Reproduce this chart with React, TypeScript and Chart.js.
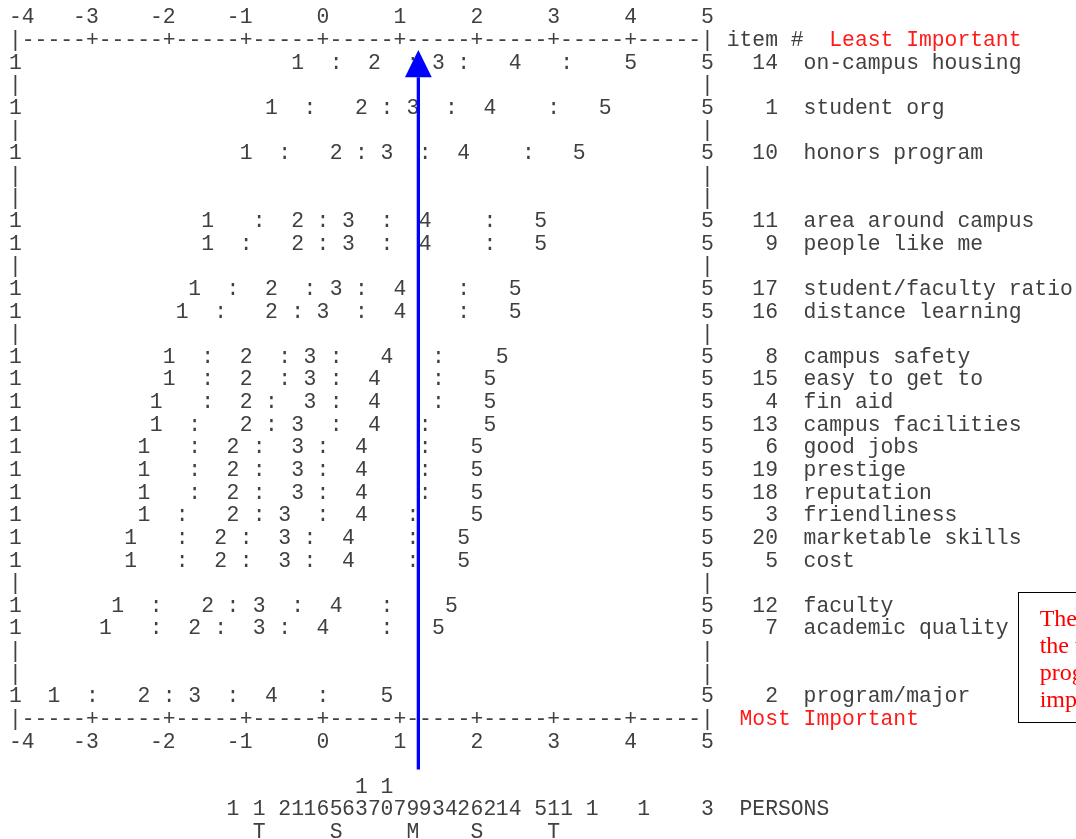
import React, { useEffect, useRef } from "react";
import { Chart, registerables } from "chart.js";

Chart.register(...registerables);

// ---------- data ----------
const xTicks = [-4, -3, -2, -1, 0, 1, 2, 3, 4, 5];

const itemNumbers = [14, 1, 10, 11, 9, 17, 16, 8, 15, 4, 13, 6, 19, 18, 3, 20, 5, 12, 7, 2];
const itemNames = [
  "on-campus housing",
  "student org",
  "honors program",
  "area around campus",
  "people like me",
  "student/faculty ratio",
  "distance learning",
  "campus safety",
  "easy to get to",
  "fin aid",
  "campus facilities",
  "good jobs",
  "prestige",
  "reputation",
  "friendliness",
  "marketable skills",
  "cost",
  "faculty",
  "academic quality",
  "program/major",
];
// text line (row) on which each item is printed
const itemRows = [2, 4, 6, 9, 10, 12, 13, 15, 16, 17, 18, 19, 20, 21, 22, 23, 24, 26, 27, 30];
const spacerRows = [3, 5, 7, 8, 11, 14, 25, 28, 29];

// expected-score positions (logits) of category labels and half-point thresholds
const cat1Pos = [-0.33, -0.67, -1, -1.5, -1.5, -1.67, -1.83, -2, -2, -2.17, -2.17, -2.33, -2.33, -2.33, -2.33, -2.5, -2.5, -2.67, -2.83, -3.5];
const thr12Pos = [0.17, -0.17, -0.5, -0.83, -1, -1.17, -1.33, -1.5, -1.5, -1.5, -1.67, -1.67, -1.67, -1.67, -1.83, -1.83, -1.83, -2.17, -2.17, -3];
const cat2Pos = [0.67, 0.5, 0.17, -0.33, -0.33, -0.67, -0.67, -1, -1, -1, -1, -1.17, -1.17, -1.17, -1.17, -1.33, -1.33, -1.5, -1.67, -2.33];
const thr23Pos = [1.17, 0.83, 0.5, 0, 0, -0.17, -0.33, -0.5, -0.5, -0.67, -0.67, -0.83, -0.83, -0.83, -0.83, -1, -1, -1.17, -1.33, -2];
const cat3Pos = [1.5, 1.17, 0.83, 0.33, 0.33, 0.17, 0, -0.17, -0.17, -0.17, -0.33, -0.33, -0.33, -0.33, -0.5, -0.5, -0.5, -0.83, -0.83, -1.67];
const thr34Pos = [1.83, 1.67, 1.33, 0.83, 0.83, 0.5, 0.5, 0.17, 0.17, 0.17, 0.17, 0, 0, 0, 0, -0.17, -0.17, -0.33, -0.5, -1.17];
const cat4Pos = [2.5, 2.17, 1.83, 1.33, 1.33, 1, 1, 0.83, 0.67, 0.67, 0.67, 0.5, 0.5, 0.5, 0.5, 0.33, 0.33, 0.17, 0, -0.67];
const thr45Pos = [3.17, 3, 2.67, 2.17, 2.17, 1.83, 1.83, 1.5, 1.5, 1.5, 1.33, 1.33, 1.33, 1.33, 1.17, 1.17, 1.17, 0.83, 0.83, 0];
const cat5Pos = [4, 3.67, 3.33, 2.83, 2.83, 2.5, 2.5, 2.33, 2.17, 2.17, 2.17, 2, 2, 2, 2, 1.83, 1.83, 1.67, 1.5, 0.83];

// person distribution along the logit scale
const personPos = [-1.17, -0.83, -0.5, -0.33, -0.17, 0, 0.17, 0.33, 0.5, 0.67, 0.83, 1, 1.17, 1.33, 1.5, 1.67, 1.83, 2, 2.17, 2.33, 2.5, 2.83, 3, 3.17, 3.5, 4.17, 5];
const personCounts = [1, 1, 2, 1, 1, 6, 5, 6, 13, 7, 10, 7, 9, 9, 3, 4, 2, 6, 2, 1, 4, 5, 1, 1, 1, 1, 3];
const markerLabels = ["T", "S", "M", "S", "T"];
const markerPos = [-0.83, 0.17, 1.17, 2, 3];

const personMean = 1.24;
const arrowTipRow = 1.44;
const arrowHeadBaseRow = 2.64;
const arrowBottomRow = 33.22;

const boxLines = ["The persons' mean shows", "the whole group rates", "program/major as most", "important of all items"];

// ---------- drawing ----------
const MONO = "21.37px 'Liberation Mono', 'DejaVu Sans Mono', monospace";
const TEXT = "#404040";
const RED = "#ff1a1a";

const textPlugin = {
  id: "asciiMap",
  beforeDatasetsDraw(chart: any) {
    const { ctx } = chart;
    const xs = chart.scales.x;
    const ys = chart.scales.y;
    const x0 = xs.getPixelForValue(xTicks[0]);
    const colW = (xs.getPixelForValue(xTicks[xTicks.length - 1]) - x0) / ((xTicks.length - 1) * 6);
    const colX = (c: number) => x0 + c * colW;
    const lineY = (r: number) => ys.getPixelForValue(r) + 5.8;
    const colOf = (v: number) => Math.round((v - xTicks[0]) * 6);
    const lastCol = colOf(xTicks[xTicks.length - 1]);

    ctx.save();
    ctx.font = MONO;
    ctx.textAlign = "center";
    ctx.textBaseline = "alphabetic";

    const put = (s: string, col: number, row: number, color = TEXT) => {
      ctx.fillStyle = color;
      for (let i = 0; i < s.length; i++) {
        if (s[i] !== " ") ctx.fillText(s[i], colX(col + i), lineY(row));
      }
    };

    // axis lines and tick labels
    let axis = "";
    for (let c = 0; c <= lastCol; c++) {
      axis += c === 0 || c === lastCol ? "|" : c % 6 === 0 ? "+" : "-";
    }
    [1, 31].forEach((r) => put(axis, 0, r));
    [0, 32].forEach((r) => {
      xTicks.forEach((t) => {
        const s = String(t);
        const end = colOf(t);
        put(s, Math.max(0, end - s.length + 1), r);
      });
    });
    put("item #", lastCol + 2, 1);
    put("Least Important", lastCol + 10, 1, RED);
    put("Most Important", lastCol + 3, 31, RED);

    // spacer rows
    spacerRows.forEach((r) => {
      put("|", 0, r);
      put("|", lastCol, r);
    });

    // item rows
    const groups: [number[], string][] = [
      [cat1Pos, "1"], [thr12Pos, ":"], [cat2Pos, "2"], [thr23Pos, ":"], [cat3Pos, "3"],
      [thr34Pos, ":"], [cat4Pos, "4"], [thr45Pos, ":"], [cat5Pos, "5"],
    ];
    itemRows.forEach((r, i) => {
      put("1", 0, r);
      put("5", lastCol, r);
      groups.forEach(([arr, ch]) => {
        ctx.fillStyle = TEXT;
        ctx.fillText(ch, xs.getPixelForValue(arr[i]), lineY(r));
      });
      const num = String(itemNumbers[i]);
      put(num, lastCol + 5 - num.length + 1, r);
      put(itemNames[i], lastCol + 8, r);
    });

    // persons
    personPos.forEach((p, i) => {
      const s = String(personCounts[i]);
      for (let k = 0; k < s.length; k++) {
        const row = 35 - (s.length - 1 - k);
        ctx.fillStyle = TEXT;
        ctx.fillText(s[k], xs.getPixelForValue(p), lineY(row));
      }
    });
    put("PERSONS", lastCol + 3, 35);
    markerPos.forEach((p, i) => {
      ctx.fillStyle = TEXT;
      ctx.fillText(markerLabels[i], xs.getPixelForValue(p), lineY(36));
    });

    // annotation box
    const bx = colX(78.2);
    const by0 = ys.getPixelForValue(25.4);
    const by1 = ys.getPixelForValue(31.15);
    ctx.strokeStyle = "#000";
    ctx.lineWidth = 1;
    ctx.strokeRect(Math.round(bx) + 0.5, Math.round(by0) + 0.5, 200, Math.round(by1 - by0));
    ctx.font = "24px 'Liberation Serif', 'Times New Roman', serif";
    ctx.textAlign = "left";
    ctx.fillStyle = "#ff0000";
    boxLines.forEach((l, i) => {
      ctx.fillText(l, bx + 22, by0 + 34 + i * 27);
    });
    ctx.restore();
  },
  afterDatasetsDraw(chart: any) {
    const { ctx } = chart;
    const xs = chart.scales.x;
    const ys = chart.scales.y;
    const x = xs.getPixelForValue(personMean);
    const tip = ys.getPixelForValue(arrowTipRow);
    const base = ys.getPixelForValue(arrowHeadBaseRow);
    ctx.save();
    ctx.fillStyle = "#0000ff";
    ctx.beginPath();
    ctx.moveTo(x, tip);
    ctx.lineTo(x - 13.4, base);
    ctx.lineTo(x + 13.4, base);
    ctx.closePath();
    ctx.fill();
    ctx.restore();
  },
};

export default function App() {
  const ref = useRef<HTMLCanvasElement>(null);
  useEffect(() => {
    const canvas = ref.current;
    if (!canvas) return;
    const chart = new Chart(canvas, {
      type: "scatter",
      data: {
        datasets: [
          {
            label: "Person mean",
            data: [
              { x: personMean, y: arrowBottomRow },
              { x: personMean, y: arrowHeadBaseRow },
            ],
            showLine: true,
            borderColor: "#0000ff",
            backgroundColor: "#0000ff",
            borderWidth: 3.3,
            pointRadius: 0,
          },
        ],
      },
      options: {
        responsive: false,
        animation: false,
        events: [],
        layout: { padding: { left: 15.4, right: 368.5, top: 17.5, bottom: 6.7 } },
        scales: {
          x: { type: "linear", min: -4, max: 5, display: false },
          y: { type: "linear", min: 0, max: 36, reverse: true, display: false },
        },
        plugins: {
          legend: { display: false },
          tooltip: { enabled: false },
          title: { display: false },
        },
      },
      plugins: [textPlugin],
    } as any);
    return () => chart.destroy();
  }, []);
  return (
    <div style={{ position: "absolute", left: 0, top: 0, width: 1076, height: 839, background: "#fff", overflow: "hidden" }}>
      <canvas ref={ref} width={1076} height={839} style={{ display: "block" }} />
    </div>
  );
}
